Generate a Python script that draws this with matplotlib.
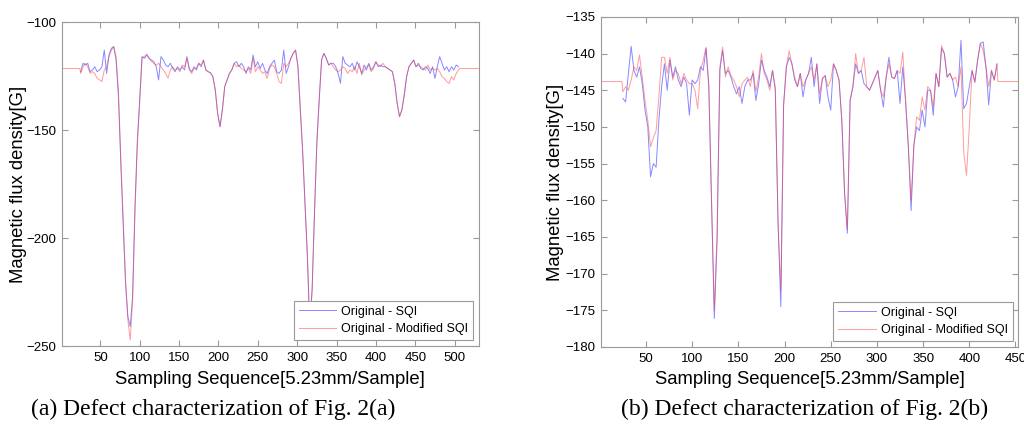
import matplotlib
matplotlib.use("Agg")
import matplotlib.pyplot as plt
import numpy as np

plt.rcParams['font.family'] = ['Liberation Sans', 'DejaVu Sans']

# ---- panel (a) data, sampled every 3 samples from 25 to 505
x_a = np.arange(25, 506, 3)
sqi_a = [
    -123.0, -119.1, -119.9, -119.1, -123.0, -122.2, -120.7, -123.0, -122.2, -120.7,
    -113.0, -123.8, -115.3, -112.2, -111.4, -117.6, -134.6, -165.4, -193.2, -221.0,
    -236.4, -241.0, -227.0, -185.5, -155.0, -136.0, -116.0, -116.8, -115.3, -116.8,
    -117.6, -118.4, -120.7, -126.8, -116.0, -117.6, -119.9, -120.7, -119.1, -121.5,
    -123.0, -120.7, -122.2, -120.7, -122.2, -116.0, -121.5, -123.0, -120.7, -122.2,
    -119.1, -120.7, -117.6, -122.2, -123.0, -123.5, -125.3, -131.5, -142.3, -148.5,
    -140.7, -129.9, -126.8, -123.8, -122.2, -119.1, -118.4, -120.7, -119.1, -120.7,
    -123.8, -120.7, -122.2, -115.3, -120.7, -118.4, -121.5, -119.1, -122.2, -123.8,
    -120.7, -119.1, -117.6, -123.0, -123.8, -122.2, -113.0, -123.8, -120.7, -116.8,
    -114.5, -113.0, -120.7, -140.7, -160.0, -184.0, -208.6, -240.0, -224.0, -188.6,
    -156.0, -136.0, -117.6, -114.5, -116.8, -119.9, -119.1, -119.1, -120.7, -123.8,
    -128.4, -116.0, -119.1, -119.9, -120.7, -119.1, -122.2, -118.4, -120.7, -123.8,
    -119.9, -122.2, -119.1, -122.2, -120.7, -118.4, -120.7, -119.9, -120.7, -120.7,
    -121.5, -122.2, -123.0, -128.4, -137.6, -143.8, -140.7, -133.8, -125.3, -120.7,
    -119.1, -117.6, -120.7, -119.1, -121.5, -122.2, -120.7, -121.5, -123.8, -120.7,
    -126.1, -120.7, -116.0, -119.1, -122.2, -120.7, -123.0, -120.7, -122.2, -119.9,
    -120.7,
]
msqi_a = [
    -123.8, -120.7, -119.1, -120.7, -123.8, -123.0, -123.8, -126.1, -126.8, -127.6,
    -122.2, -120.7, -116.0, -113.0, -111.4, -116.0, -131.5, -163.0, -191.0, -219.0,
    -238.0, -247.2, -229.0, -188.0, -157.0, -137.0, -116.5, -116.0, -114.8, -116.8,
    -118.4, -119.1, -119.9, -119.1, -120.7, -122.2, -123.8, -126.0, -122.2, -120.7,
    -122.2, -121.5, -123.0, -119.9, -120.7, -116.8, -122.2, -123.8, -121.5, -121.5,
    -119.1, -119.9, -117.6, -122.2, -123.0, -123.5, -125.3, -131.5, -142.3, -148.5,
    -140.7, -129.9, -126.8, -123.8, -122.2, -119.1, -120.7, -119.9, -121.5, -122.2,
    -123.0, -121.5, -123.8, -116.8, -123.0, -120.7, -122.2, -123.8, -123.0, -126.1,
    -121.5, -119.9, -120.7, -123.8, -127.6, -128.4, -119.1, -120.7, -119.1, -116.8,
    -114.5, -113.0, -120.7, -140.7, -160.0, -184.0, -208.6, -243.0, -224.0, -188.6,
    -156.0, -136.0, -117.6, -114.5, -116.8, -119.9, -119.1, -120.7, -122.2, -123.0,
    -122.2, -120.7, -121.5, -123.8, -122.2, -123.0, -120.7, -123.8, -119.1, -124.5,
    -122.2, -120.7, -119.9, -123.0, -121.5, -118.4, -119.9, -120.7, -119.1, -120.7,
    -121.5, -122.2, -123.0, -128.4, -137.6, -143.8, -140.7, -133.8, -125.3, -120.7,
    -119.1, -117.6, -120.7, -119.9, -120.7, -121.5, -122.2, -119.9, -122.2, -121.5,
    -122.2, -121.5, -123.0, -125.3, -126.1, -127.6, -128.4, -125.3, -126.8, -123.8,
    -122.2,
]
pad_a = -121.5          # flat level before/after the record
xlim_a = (1, 531)

# ---- panel (b) data, sampled every 3 samples from 25 to 430
x_b = np.arange(25, 431, 3)
sqi_b = [
    -146.1, -146.6, -142.7, -139.0, -142.3, -143.2, -141.8, -144.1, -147.7, -150.0,
    -156.8, -155.0, -155.5, -149.1, -144.5, -141.4, -145.0, -140.9, -143.2, -141.8,
    -143.6, -144.5, -143.2, -144.1, -148.4, -143.6, -144.1, -143.6, -141.8, -142.3,
    -139.3, -144.5, -160.0, -176.1, -165.5, -142.3, -139.6, -142.7, -142.3, -143.2,
    -144.5, -145.5, -144.5, -146.8, -144.5, -143.6, -143.6, -142.7, -146.4, -144.1,
    -140.9, -142.3, -143.2, -144.5, -142.3, -145.0, -163.2, -174.5, -147.0, -141.8,
    -140.5, -141.4, -143.6, -144.5, -142.7, -145.9, -143.6, -142.7, -140.5, -144.5,
    -141.4, -146.8, -143.4, -143.0, -145.9, -147.7, -141.4, -142.3, -143.6, -149.1,
    -159.0, -164.5, -146.4, -144.5, -141.4, -142.7, -142.3, -144.1, -144.5, -145.0,
    -144.1, -143.2, -142.3, -145.0, -147.3, -143.2, -140.5, -143.2, -143.4, -142.3,
    -146.8, -141.8, -146.4, -152.7, -161.4, -152.5, -150.0, -150.5, -147.7, -150.0,
    -145.0, -145.0, -148.4, -142.7, -144.5, -139.3, -140.0, -143.2, -142.7, -143.6,
    -145.9, -144.5, -138.2, -147.5, -146.8, -144.5, -142.3, -143.9, -140.9, -138.6,
    -138.4, -141.8, -147.0, -142.3, -143.6, -141.4,
]
msqi_b = [
    -145.2, -144.5, -145.0, -143.6, -141.8, -142.3, -140.2, -143.2, -146.4, -149.1,
    -152.7, -151.5, -150.5, -145.9, -140.5, -140.5, -142.7, -140.5, -143.6, -142.3,
    -142.7, -144.1, -142.7, -143.6, -144.1, -144.1, -145.0, -147.5, -142.3, -140.9,
    -139.1, -144.1, -160.0, -175.0, -164.5, -141.8, -139.1, -143.2, -141.8, -143.0,
    -143.6, -144.5, -145.9, -144.1, -143.6, -143.2, -144.5, -142.3, -145.2, -143.2,
    -140.0, -142.7, -143.6, -145.0, -142.3, -144.5, -163.2, -172.3, -147.0, -141.8,
    -139.6, -141.4, -143.2, -144.5, -142.7, -144.5, -143.6, -142.7, -141.8, -143.6,
    -141.4, -145.5, -143.4, -143.0, -144.5, -143.6, -141.4, -142.3, -143.6, -149.1,
    -159.0, -164.0, -146.4, -144.5, -140.0, -142.7, -142.3, -140.5, -144.5, -145.0,
    -144.1, -143.2, -142.3, -145.0, -145.9, -143.2, -141.4, -143.2, -143.4, -142.3,
    -142.7, -139.8, -146.4, -152.5, -160.0, -152.5, -148.6, -149.1, -145.9, -147.7,
    -144.5, -145.0, -147.3, -142.7, -144.5, -138.9, -140.0, -143.2, -142.7, -143.6,
    -143.2, -144.5, -141.8, -153.5, -156.6, -150.0, -142.3, -143.9, -140.9, -138.6,
    -139.6, -141.8, -144.5, -142.3, -143.6, -141.4,
]
pad_b = -143.8
xlim_b = (1, 453)

blue = '#3a3aff'
red = '#ff3a3a'
grey = '#9a9a9a'


def style_axes(ax):
    for s in ax.spines.values():
        s.set_color(grey)
        s.set_linewidth(0.8)
    ax.tick_params(direction='in', top=True, right=True, length=4,
                   width=0.8, color=grey, labelsize=9.5, pad=4)


def draw_panel(ax, x, sqi, msqi, pad, xlim, ypad):
    # red record is padded with its flat level out to both axis limits
    xr = np.r_[xlim[0], x[0] - 1, x, x[-1] + 1, xlim[1]]
    yr = np.r_[pad, pad, msqi, pad, pad]
    ax.plot(x, sqi, color=blue, lw=0.7, alpha=0.6, label='Original - SQI')
    ax.plot(xr, yr, color=red, lw=0.7, alpha=0.5,
            label='Original - Modified SQI')
    ax.set_xlim(*xlim)
    ax.set_xlabel('Sampling Sequence[5.23mm/Sample]', fontsize=13.3,
                  labelpad=5)
    ax.set_ylabel('Magnetic flux density[G]', fontsize=13.3, labelpad=ypad)
    style_axes(ax)
    leg = ax.legend(loc='lower right', fontsize=9, fancybox=False,
                    framealpha=1, edgecolor=grey, borderaxespad=0.45,
                    handlelength=3.0, borderpad=0.4, labelspacing=0.45,
                    handletextpad=0.4)
    leg.get_frame().set_linewidth(0.8)


fig = plt.figure(figsize=(10.24, 4.32), dpi=100)

# (a)
ax1 = fig.add_axes([0.0603, 0.199, 0.4075, 0.750])
draw_panel(ax1, x_a, sqi_a, msqi_a, pad_a, xlim_a, -0.5)
ax1.set_ylim(-250, -100)
ax1.set_xticks(np.arange(50, 501, 50))
ax1.set_yticks([-250, -200, -150, -100])

# (b)
ax2 = fig.add_axes([0.5866, 0.1968, 0.4078, 0.764])
draw_panel(ax2, x_b, sqi_b, msqi_b, pad_b, xlim_b, 0.5)
ax2.set_ylim(-180, -135)
ax2.set_xticks(np.arange(50, 451, 50))
ax2.set_yticks(np.arange(-180, -134, 5))

# captions
fig.text(0.208, 0.052, '(a) Defect characterization of Fig. 2(a)',
         family='Liberation Serif', fontsize=17, ha='center', va='center')
fig.text(0.786, 0.052, '(b) Defect characterization of Fig. 2(b)',
         family='Liberation Serif', fontsize=17, ha='center', va='center')

fig.savefig('out.png', dpi=100)
